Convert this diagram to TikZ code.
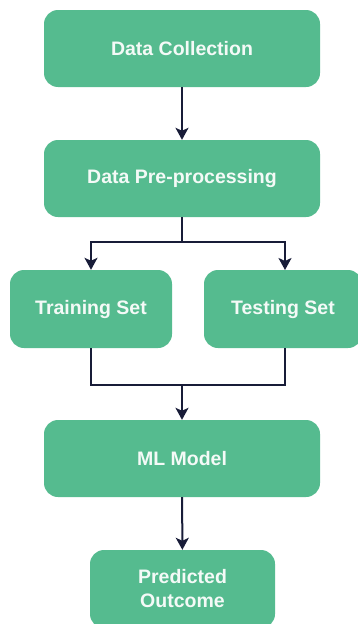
\documentclass[tikz,border=0pt]{standalone}
\usepackage{fontspec}
\setmainfont{Liberation Sans}
\usetikzlibrary{arrows.meta}
\definecolor{boxgreen}{RGB}{85,187,143}
\definecolor{linenavy}{RGB}{24,28,56}
\definecolor{boxtext}{RGB}{244,250,247}
\begin{document}
\begin{tikzpicture}[x=1pt,y=-1pt,
  stepbox/.style={draw=none,fill=boxgreen,rounded corners=14pt,text=boxtext,
    font=\bfseries\fontsize{19.5}{24}\selectfont,align=center,inner sep=0pt},
  conn/.style={draw=linenavy,line width=2pt,-{Stealth[length=12pt,width=13pt,inset=3pt]}},
  plain/.style={draw=linenavy,line width=2pt}]
\useasboundingbox (0,0) rectangle (357,624);
\node[stepbox,minimum width=276pt,minimum height=77pt] (dc) at (182,48.5) {Data Collection};
\node[stepbox,minimum width=276pt,minimum height=77pt] (dp) at (182,178.5) {Data Pre-processing};
\node[stepbox,minimum width=162pt,minimum height=78pt] (tr) at (91,309) {Training Set};
\node[stepbox,minimum width=158pt,minimum height=78pt] (te) at (283,309) {Testing Set};
\node[stepbox,minimum width=276pt,minimum height=77pt] (ml) at (182,458.5) {ML Model};
\node[stepbox,minimum width=185pt,minimum height=78pt] (po) at (182.5,589) {Predicted\\Outcome};
\coordinate (s1) at (182,242);
\coordinate (s2) at (182,385);
\draw[conn] (dc) -- (dp);
\draw[plain] (dp.south) -- (s1);
\draw[conn] (s1) -| (tr.north);
\draw[conn] (s1) -| (285,270) coordinate (teT);
\draw[plain] (tr.south) |- (s2);
\draw[plain] (285,348) |- (s2);
\draw[conn] (s2) -- (ml);
\draw[conn] (ml) -- (po);
\end{tikzpicture}
\end{document}
